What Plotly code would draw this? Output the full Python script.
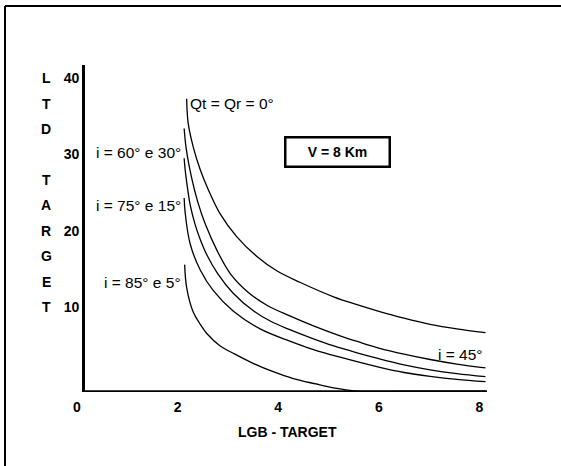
import plotly.graph_objects as go

# ---- data ----
x_qt0 = [2.18, 2.21, 2.31, 2.45, 2.61, 2.84, 3.17, 3.57, 3.97, 4.43, 5.10, 5.55, 6.00, 6.50, 7.02, 7.55, 8.12]
y_qt0 = [37.3, 34.1, 31.0, 28.0, 25.4, 22.3, 19.3, 16.7, 14.8, 13.3, 11.4, 10.4, 9.5, 8.6, 7.8, 7.2, 6.7]

x_i60 = [2.13, 2.17, 2.28, 2.40, 2.55, 2.78, 3.05, 3.40, 3.80, 4.23, 4.70, 5.23, 5.60, 6.00, 6.50, 7.02, 7.55, 8.12]
y_i60 = [33.4, 30.8, 26.9, 23.8, 20.9, 17.5, 14.4, 12.0, 10.2, 8.9, 7.6, 6.3, 5.5, 4.7, 3.9, 3.2, 2.6, 2.1]

x_i30 = [2.13, 2.15, 2.17, 2.25, 2.35, 2.45, 2.58, 2.80, 3.10, 3.50, 3.85, 4.23, 4.70, 5.09, 5.55, 6.00, 6.50, 7.02, 7.55, 8.12]
y_i30 = [29.5, 28.0, 26.9, 23.4, 20.8, 18.9, 16.9, 14.4, 11.9, 9.6, 8.2, 7.1, 5.9, 5.0, 4.1, 3.3, 2.5, 1.85, 1.35, 0.95]

x_i75 = [2.13, 2.15, 2.25, 2.45, 2.71, 3.11, 3.64, 4.23, 4.70, 5.23, 6.00, 6.50, 7.02, 7.55, 8.12]
y_i75 = [24.3, 22.4, 18.3, 14.9, 12.2, 9.5, 7.2, 5.6, 4.5, 3.5, 2.2, 1.5, 1.0, 0.6, 0.3]

x_i85 = [2.14, 2.18, 2.31, 2.45, 2.58, 2.84, 3.14, 3.50, 3.90, 4.30, 4.75, 5.10, 5.50, 6.50, 8.12]
y_i85 = [15.6, 12.6, 9.4, 7.8, 6.6, 5.0, 3.9, 2.7, 1.6, 0.7, 0.0, -0.5, -0.9, -0.95, -0.95]

x_ticks = [0, 2, 4, 6, 8]
y_ticks = [10, 20, 30, 40]
y_title_letters = ["L", "T", "D", "", "T", "A", "R", "G", "E", "T"]

curve_labels = [
    ("Qt = Qr = 0°", 2.21, 36.7, "left"),
    ("i = 60° e 30°", 2.10, 30.3, "right"),
    ("i = 75° e 15°", 2.10, 23.3, "right"),
    ("i = 85° e 5°", 2.10, 13.3, "right"),
    ("i = 45°", 8.12, 3.8, "right"),
]
box_text = "V = 8 Km"
x_title = "LGB - TARGET"

X_MIN, X_MAX = 0.0, 8.15
Y_MIN, Y_MAX = -1.05, 41.7
X_AXIS_START = 0.12

FONT = "Liberation Sans, Arial, sans-serif"

fig = go.Figure()
for xs, ys in [(x_qt0, y_qt0), (x_i60, y_i60), (x_i30, y_i30), (x_i75, y_i75), (x_i85, y_i85)]:
    fig.add_trace(go.Scatter(x=xs, y=ys, mode="lines",
                             line=dict(color="black", width=1.3, shape="spline", smoothing=1.0),
                             showlegend=False, hoverinfo="skip"))

W, H = 561, 466
ml, mr, mt, mb = 77, 74, 65, 74
PW, PH = W - ml - mr, H - mt - mb
pos_y = (X_AXIS_START - X_MIN) / (X_MAX - X_MIN)


def px_x(p):
    return (p - ml) / PW


def px_y(p):
    return (H - mb - p) / PH


fig.update_layout(
    width=W, height=H,
    margin=dict(l=ml, r=mr, t=mt, b=mb, autoexpand=False),
    paper_bgcolor="white", plot_bgcolor="white",
    font=dict(family=FONT, color="black"),
    xaxis=dict(range=[X_MIN, X_MAX], tickvals=x_ticks, ticktext=[str(v) for v in x_ticks],
               showgrid=False, zeroline=False, showline=False, ticks="",
               ticklabelstandoff=5,
               tickfont=dict(size=14, family=FONT, weight="bold")),
    yaxis=dict(range=[Y_MIN, Y_MAX], tickvals=y_ticks, ticktext=[str(v) for v in y_ticks],
               showgrid=False, zeroline=False, showline=True, linecolor="black", linewidth=3,
               ticks="", anchor="free", position=pos_y,
               tickfont=dict(size=14, family=FONT, weight="bold")),
)

# x axis line (starts at the y-axis)
fig.add_shape(type="line", xref="x", yref="y", x0=X_AXIS_START, x1=X_MAX, y0=Y_MIN, y1=Y_MIN,
              line=dict(color="black", width=3.5))

# frame (top and left edges of the scanned figure)
fig.add_shape(type="line", xref="paper", yref="paper",
              x0=px_x(5), x1=px_x(561), y0=px_y(6), y1=px_y(6),
              line=dict(color="black", width=2))
fig.add_shape(type="line", xref="paper", yref="paper",
              x0=px_x(5), x1=px_x(5), y0=px_y(6), y1=px_y(466),
              line=dict(color="black", width=2))

# vertical y title letters
for k, letter in enumerate(y_title_letters):
    if not letter:
        continue
    fig.add_annotation(x=px_x(46), xref="paper", y=40 - k * 10 / 3, yref="y",
                       text="<b>" + letter + "</b>", showarrow=False,
                       font=dict(size=14, family=FONT), xanchor="center", yanchor="middle")

# x axis title
fig.add_annotation(x=px_x(287), xref="paper", y=px_y(432), yref="paper",
                   text="<b>" + x_title + "</b>", showarrow=False,
                   font=dict(size=14, family=FONT), xanchor="center", yanchor="middle")

# curve labels
for text, xv, yv, anchor in curve_labels:
    fig.add_annotation(x=xv, y=yv, text=text, showarrow=False, xanchor=anchor, yanchor="middle",
                       font=dict(size=15.5, family=FONT))

# V = 8 Km box
fig.add_annotation(x=5.17, y=30.3, text="<b>" + box_text + "</b>", showarrow=False,
                   font=dict(size=14, family=FONT), bordercolor="black", borderwidth=2.5,
                   width=100, height=25, bgcolor="white", xanchor="center", yanchor="middle")

fig.write_html("out.html", config={"displayModeBar": False},
               post_script="document.body.style.margin='0px';")
